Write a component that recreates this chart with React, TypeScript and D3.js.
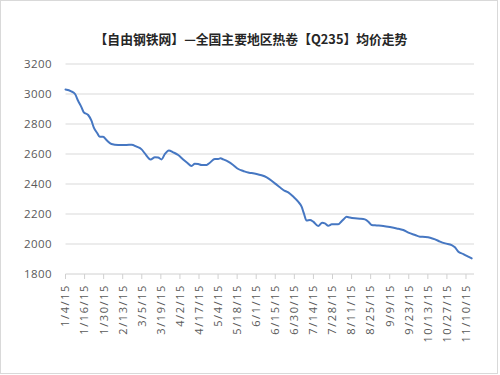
import React from "react";
import * as d3 from "d3";

const title = "【自由钢铁网】—全国主要地区热卷【Q235】均价走势";
const tickLabels = [
  "1/4/15", "1/16/15", "1/30/15", "2/13/15", "3/5/15", "3/19/15", "4/2/15",
  "4/17/15", "5/4/15", "5/18/15", "6/1/15", "6/15/15", "6/30/15", "7/14/15",
  "7/28/15", "8/11/15", "8/25/15", "9/9/15", "9/23/15", "10/13/15", "10/27/15",
  "11/10/15",
];
const yTicks = [1800, 2000, 2200, 2400, 2600, 2800, 3000, 3200];
// trading-day index of each sampled point and the average price there
const dayIndex = [
  0, 3, 5, 6.6, 8.4, 9.6, 11.9, 13.6, 14.8, 16.6, 18, 19.7, 21.5, 24.1, 27.6,
  32, 34.6, 37.3, 39.9, 41.6, 44.6, 46.9, 48.6, 50.4, 52.1, 54.2, 56.5, 59.1,
  61.7, 63.8, 66.1, 67.8, 69.6, 71.4, 74, 75.7, 78.3, 80.1, 81.3, 82.7, 85.3,
  87.9, 90.6, 93.2, 95.8, 97.6, 100.2, 102.8, 105.5, 108.1, 109.8, 112.4,
  114.2, 116.8, 119.4, 122, 123.8, 125, 126.4, 128.2, 129.9, 132.5, 134.6,
  136, 137.8, 139.6, 143, 144.8, 146, 147.4, 149.1, 151.8, 154.4, 157, 158.8,
  160.5, 163.2, 166.6, 170.1, 173.7, 177.1, 179.8, 183.3, 185.9, 188.6, 191.2,
  193.8, 196.4, 199.1, 202.5, 204.2, 206, 208.6, 211.2, 213,
];
const avgPrice = [
  3030, 3018, 3000, 2955, 2911, 2878, 2860, 2822, 2778, 2740, 2715, 2715, 2693,
  2667, 2660, 2660, 2662, 2649, 2631, 2604, 2564, 2578, 2576, 2564, 2600, 2624,
  2611, 2593, 2564, 2542, 2520, 2535, 2533, 2527, 2527, 2542, 2567, 2567, 2571,
  2564, 2549, 2527, 2500, 2487, 2476, 2473, 2467, 2458, 2444, 2422, 2404, 2378,
  2360, 2344, 2316, 2282, 2249, 2204, 2156, 2160, 2149, 2120, 2142, 2138, 2122,
  2131, 2131, 2152, 2167, 2182, 2176, 2171, 2169, 2164, 2149, 2127, 2124, 2120,
  2113, 2104, 2093, 2076, 2060, 2049, 2047, 2042, 2031, 2016, 2004, 1993, 1978,
  1949, 1933, 1916, 1904,
];

const W = 500;
const H = 375;
const font = "'Open Sans', 'Noto Sans', sans-serif";

export default function App() {
  const x = d3.scaleLinear().domain([0, 214.2]).range([65.5, 474]);
  const y = d3.scaleLinear().domain([1800, 3200]).range([274, 64]);
  const line = d3
    .line<number>()
    .x((_, i) => x(dayIndex[i]))
    .y((d) => y(d))
    .curve(d3.curveMonotoneX);
  const tickIdx = tickLabels.map((_, i) => i * 10);

  return (
    <svg
      width={W}
      height={H}
      style={{ position: "absolute", left: 0, top: 0, background: "#fff" }}
    >
      <rect x={0.5} y={0.5} width={497} height={373} fill="#fff" stroke="#d9d9d9" />
      <text
        x={251}
        y={44}
        textAnchor="middle"
        fontFamily="'Noto Sans CJK SC', sans-serif"
        fontSize={12.8}
        fontWeight={700}
        fill="#262626"
      >
        {title}
      </text>
      {yTicks.map((t) => (
        <g key={t}>
          {t > 1800 && (
            <line x1={x(0)} x2={x(214.2)} y1={y(t)} y2={y(t)} stroke="#d9d9d9" strokeWidth={1} />
          )}
          <text
            x={52}
            y={y(t)}
            dy="0.35em"
            textAnchor="end"
            fontFamily={font}
            fontSize={11.5}
            letterSpacing={0.4}
            fill="#595959"
          >
            {t}
          </text>
        </g>
      ))}
      <line x1={x(0)} x2={x(214.2)} y1={y(1800)} y2={y(1800)} stroke="#d0d0d0" strokeWidth={1} />
      {tickIdx.map((ti, i) => (
        <g key={ti} transform={`translate(${x(ti)},0)`}>
          <line x1={0} x2={0} y1={y(1800)} y2={y(1800) + 5} stroke="#d0d0d0" />
          <text
            transform={`translate(0,${y(1800) + 10}) rotate(-90)`}
            dy="0.35em"
            textAnchor="end"
            fontFamily={font}
            fontSize={11}
            letterSpacing={1.6}
            fill="#595959"
          >
            {tickLabels[i]}
          </text>
        </g>
      ))}
      <path
        d={line(avgPrice) || ""}
        fill="none"
        stroke="#4677c2"
        strokeWidth={2}
        strokeLinejoin="round"
        strokeLinecap="round"
      />
    </svg>
  );
}
